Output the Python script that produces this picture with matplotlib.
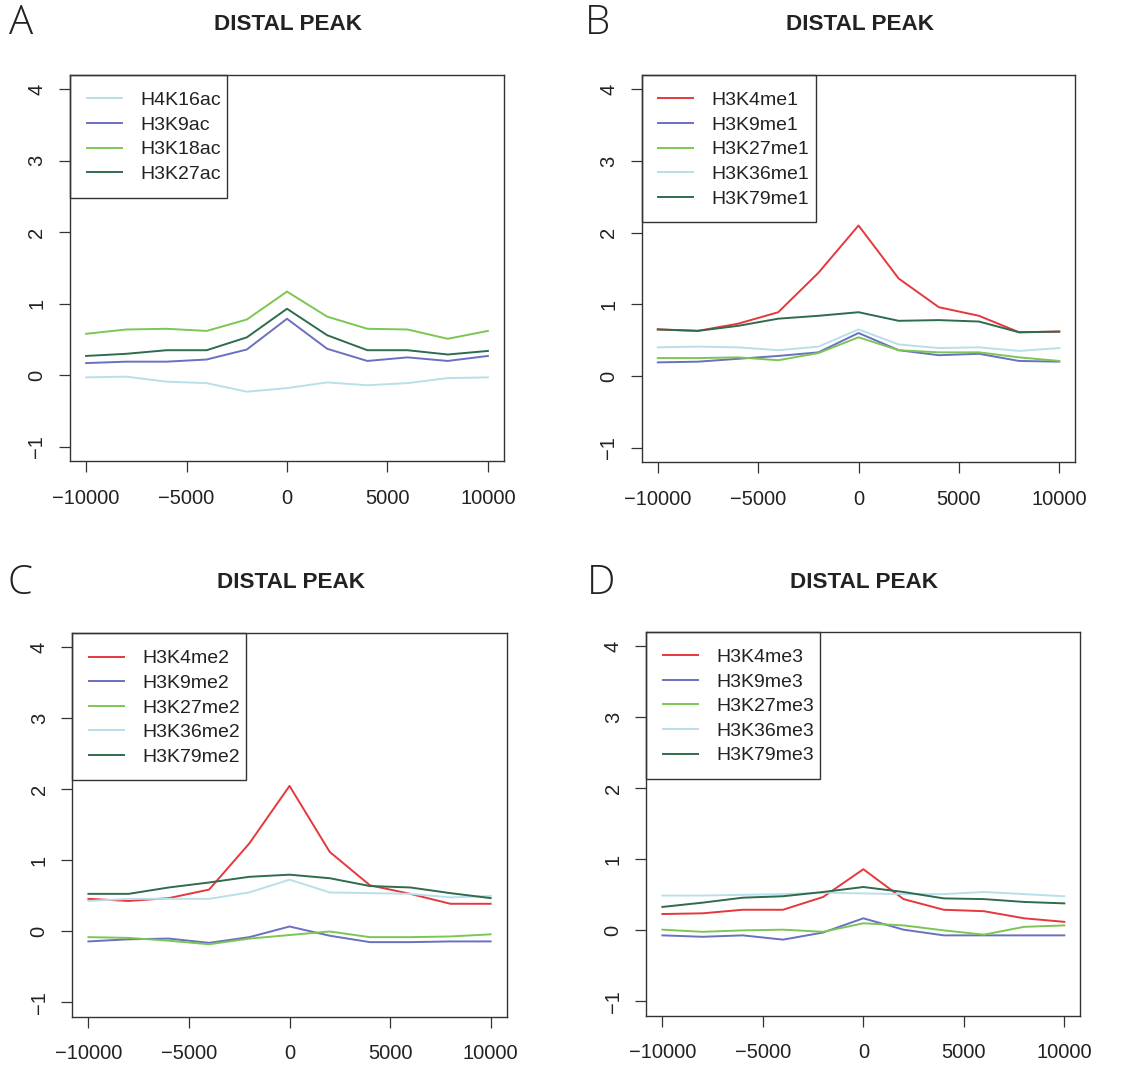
import matplotlib
matplotlib.use("Agg")
import matplotlib.pyplot as plt
from matplotlib.patches import Rectangle
import numpy as np

plt.rcParams['font.family'] = ['Liberation Sans', 'DejaVu Sans']

positions = [-10000, -8000, -6000, -4000, -2000, 0, 2000, 4000, 6000, 8000, 10000]

# Panel A (acetylation)
a_labels = ["H4K16ac", "H3K9ac", "H3K18ac", "H3K27ac"]
a_H4K16ac = [-0.03, -0.02, -0.09, -0.11, -0.23, -0.18, -0.10, -0.14, -0.11, -0.04, -0.03]
a_H3K9ac = [0.17, 0.19, 0.19, 0.22, 0.36, 0.79, 0.37, 0.20, 0.25, 0.20, 0.27]
a_H3K18ac = [0.58, 0.64, 0.65, 0.62, 0.78, 1.17, 0.82, 0.65, 0.64, 0.51, 0.62]
a_H3K27ac = [0.27, 0.30, 0.35, 0.35, 0.53, 0.93, 0.56, 0.35, 0.35, 0.29, 0.34]

# Panel B (mono-methylation)
b_labels = ["H3K4me1", "H3K9me1", "H3K27me1", "H3K36me1", "H3K79me1"]
b_H3K4me1 = [0.65, 0.63, 0.73, 0.89, 1.44, 2.10, 1.36, 0.96, 0.84, 0.61, 0.62]
b_H3K9me1 = [0.19, 0.20, 0.24, 0.28, 0.33, 0.60, 0.36, 0.29, 0.31, 0.21, 0.20]
b_H3K27me1 = [0.25, 0.25, 0.26, 0.22, 0.32, 0.54, 0.36, 0.33, 0.33, 0.26, 0.21]
b_H3K36me1 = [0.40, 0.41, 0.40, 0.36, 0.41, 0.65, 0.44, 0.39, 0.40, 0.35, 0.39]
b_H3K79me1 = [0.65, 0.63, 0.70, 0.80, 0.84, 0.89, 0.77, 0.78, 0.76, 0.61, 0.62]

# Panel C (di-methylation)
c_labels = ["H3K4me2", "H3K9me2", "H3K27me2", "H3K36me2", "H3K79me2"]
c_H3K4me2 = [0.46, 0.43, 0.47, 0.59, 1.24, 2.05, 1.12, 0.65, 0.53, 0.39, 0.39]
c_H3K9me2 = [-0.14, -0.11, -0.10, -0.16, -0.08, 0.07, -0.06, -0.15, -0.15, -0.14, -0.14]
c_H3K27me2 = [-0.08, -0.09, -0.13, -0.18, -0.10, -0.05, 0.00, -0.08, -0.08, -0.07, -0.04]
c_H3K36me2 = [0.43, 0.46, 0.46, 0.46, 0.55, 0.73, 0.55, 0.54, 0.53, 0.48, 0.50]
c_H3K79me2 = [0.53, 0.53, 0.62, 0.69, 0.77, 0.80, 0.75, 0.64, 0.62, 0.54, 0.47]

# Panel D (tri-methylation)
d_labels = ["H3K4me3", "H3K9me3", "H3K27me3", "H3K36me3", "H3K79me3"]
d_H3K4me3 = [0.23, 0.24, 0.29, 0.29, 0.47, 0.86, 0.44, 0.29, 0.27, 0.17, 0.12]
d_H3K9me3 = [-0.07, -0.09, -0.07, -0.13, -0.03, 0.17, 0.01, -0.07, -0.07, -0.07, -0.07]
d_H3K27me3 = [0.01, -0.02, 0.00, 0.01, -0.02, 0.10, 0.07, 0.00, -0.06, 0.05, 0.07]
d_H3K36me3 = [0.49, 0.49, 0.50, 0.51, 0.53, 0.52, 0.51, 0.51, 0.54, 0.51, 0.48]
d_H3K79me3 = [0.33, 0.39, 0.46, 0.48, 0.54, 0.61, 0.54, 0.45, 0.44, 0.40, 0.38]

x_ticks = [-10000, -5000, 0, 5000, 10000]
y_ticks = [-1, 0, 1, 2, 3, 4]
title_text = "DISTAL PEAK"
panel_letters = ["A", "B", "C", "D"]

RED = '#e5383d'
BLUE = '#6b6fc0'
GREEN = '#7cc653'
LBLUE = '#b9dfea'
DGREEN = '#2f6b4d'

panels = [
    dict(series=[a_H4K16ac, a_H3K9ac, a_H3K18ac, a_H3K27ac], labels=a_labels,
         colors=[LBLUE, BLUE, GREEN, DGREEN],
         rect=[0.0610, 0.5747, 0.3780, 0.3561], title=(287.5, 25), letter=(9, 24)),
    dict(series=[b_H3K4me1, b_H3K9me1, b_H3K27me1, b_H3K36me1, b_H3K79me1], labels=b_labels,
         colors=[RED, BLUE, GREEN, LBLUE, DGREEN],
         rect=[0.5590, 0.5738, 0.3777, 0.3570], title=(860, 25), letter=(585, 24)),
    dict(series=[c_H3K4me2, c_H3K9me2, c_H3K27me2, c_H3K36me2, c_H3K79me2], labels=c_labels,
         colors=[RED, BLUE, GREEN, LBLUE, DGREEN],
         rect=[0.0630, 0.0621, 0.3784, 0.3537], title=(291, 583), letter=(7, 583)),
    dict(series=[d_H3K4me3, d_H3K9me3, d_H3K27me3, d_H3K36me3, d_H3K79me3], labels=d_labels,
         colors=[RED, BLUE, GREEN, LBLUE, DGREEN],
         rect=[0.5630, 0.0630, 0.3781, 0.3542], title=(864, 583), letter=(587, 583)),
]

W, H = 1148, 1084
fig = plt.figure(figsize=(W / 100, H / 100), dpi=100)
TXT = '#222222'
EDGE = '#333333'

legends = []
for i, p in enumerate(panels):
    ax = fig.add_axes(p['rect'])
    for vals, lab, col in zip(p['series'], p['labels'], p['colors']):
        ax.plot(positions, vals, color=col, lw=1.4, label=lab)
    ax.set_xlim(-10800, 10800)
    ax.set_ylim(-1.2, 4.2)
    ax.set_xticks(x_ticks)
    ax.set_xticklabels([str(t).replace('-', '\u2212') for t in x_ticks])
    ax.set_yticks(y_ticks)
    ax.set_yticklabels([str(t).replace('-', '\u2212') for t in y_ticks])
    ax.tick_params(axis='both', length=8, width=0.9, color=EDGE, labelsize=14.5,
                   labelcolor=TXT)
    ax.tick_params(axis='x', pad=12)
    ax.tick_params(axis='y', pad=9, labelrotation=90)
    for lab in ax.get_yticklabels():
        lab.set_va('center')
    for s in ax.spines.values():
        s.set_linewidth(1.0)
        s.set_color(EDGE)
    leg = ax.legend(loc='upper left', borderaxespad=0, frameon=False, fontsize=14,
                    handlelength=1.8, handletextpad=0.95, labelspacing=0.36,
                    borderpad=0.85)
    for t in leg.get_texts():
        t.set_color(TXT)
    legends.append(leg)
    tx, ty = p['title']
    fig.text(tx / W, 1 - ty / H, title_text, ha='center', va='center',
             fontsize=16.2, fontweight='bold', color=TXT)
    lx, ly = p['letter']
    fig.text(lx / W, 1 - ly / H, panel_letters[i], ha='left', va='center',
             fontsize=29, family=['Open Sans', 'DejaVu Sans'], fontweight='light', color=TXT)

# R-style legend boxes: tighter padding on the right-hand side and bottom
fig.canvas.draw()
for leg in legends:
    bb = leg.get_window_extent()
    x0, y0, w, h = bb.x0, bb.y0 + 2.0, bb.width - 10.5, bb.height - 2.0
    fig.patches.append(Rectangle((x0 / W, y0 / H), w / W, h / H, transform=fig.transFigure,
                                 fill=False, edgecolor=EDGE, lw=1.0, zorder=5))

fig.savefig('out.png', dpi=100, facecolor='white')
